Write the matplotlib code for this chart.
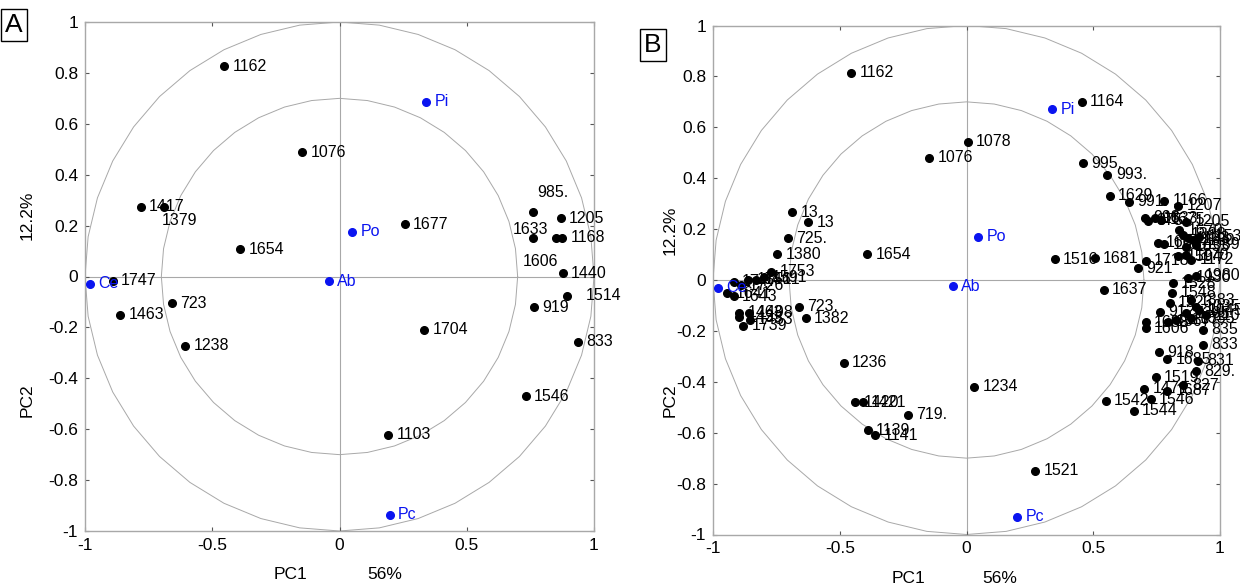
import matplotlib
matplotlib.use('Agg')
import matplotlib.pyplot as plt
import numpy as np

# panel A loadings (PC1, PC2)
a_labels = ['1162', '1076', '1417', '1379', '1654', '1677', '1747', '723', '1463', '1238',
            '1704', '1103', '985.', '1205', '1633', '1606', '1168', '1440', '1514', '919',
            '833', '1546']
a_x = [-0.454, -0.147, -0.781, -0.690, -0.391, 0.257, -0.891, -0.658, -0.862, -0.606,
       0.332, 0.191, 0.759, 0.870, 0.759, 0.851, 0.874, 0.877, 0.895, 0.765,
       0.936, 0.732]
a_y = [0.827, 0.489, 0.274, 0.274, 0.107, 0.206, -0.017, -0.105, -0.150, -0.273,
       -0.210, -0.621, 0.252, 0.229, 0.152, 0.152, 0.152, 0.013, -0.075, -0.121,
       -0.256, -0.470]
a_ref_labels = ['Pi', 'Po', 'Ab', 'Ce', 'Pc']
a_ref_x = [0.340, 0.049, -0.041, -0.980, 0.198]
a_ref_y = [0.686, 0.175, -0.018, -0.029, -0.937]

# panel B loadings (PC1, PC2)
b_labels = ['1162', '1164', '1078', '1076', '995.', '993.', '1629', '991.', '1166', '1207',
            '1205', '998', '875.', '1633', '1675', '1670', '1388', '1133', '1180', '1153',
            '1089', '1033', '1609', '1185', '1516', '1681', '1718', '921', '1594', '1170',
            '1172', '1930', '1980', '1637', '1528', '1548', '1523', '912', '1383', '1035',
            '1265', '1335', '1045', '1102', '1688', '1606', '1567', '1107', '835', '833',
            '918', '1685', '831', '829.', '1519', '827', '1471', '1687', '1546', '1542',
            '1544', '1234', '1521', '719.', '1139', '1141', '1420', '1421', '1236', '1382',
            '723.', '1654', '13', '13', '725.', '1380', '1753', '1747', '1726', '1751',
            '1461', '1591', '1641', '1643', '1463', '1433', '1498', '1453', '1739']
b_x = [-0.455, 0.455, 0.005, -0.146, 0.460, 0.556, 0.565, 0.641, 0.781, 0.834,
       0.867, 0.703, 0.716, 0.742, 0.768, 0.840, 0.853, 0.873, 0.893, 0.919,
       0.906, 0.867, 0.755, 0.781, 0.348, 0.506, 0.707, 0.676, 0.834, 0.867,
       0.887, 0.873, 0.906, 0.541, 0.814, 0.812, 0.801, 0.762, 0.887, 0.906,
       0.867, 0.887, 0.919, 0.946, 0.707, 0.707, 0.794, 0.828, 0.932, 0.932,
       0.759, 0.792, 0.915, 0.906, 0.746, 0.856, 0.700, 0.792, 0.726, 0.549,
       0.659, 0.030, 0.270, -0.230, -0.390, -0.360, -0.440, -0.410, -0.485, -0.635,
       -0.661, -0.391, -0.688, -0.625, -0.705, -0.747, -0.771, -0.918, -0.890, -0.860,
       -0.830, -0.800, -0.944, -0.918, -0.897, -0.897, -0.858, -0.855, -0.881]
b_y = [0.815, 0.700, 0.543, 0.481, 0.458, 0.413, 0.331, 0.308, 0.312, 0.291,
       0.229, 0.245, 0.232, 0.242, 0.236, 0.196, 0.177, 0.164, 0.157, 0.170,
       0.138, 0.131, 0.147, 0.140, 0.081, 0.085, 0.075, 0.046, 0.094, 0.098,
       0.079, 0.009, 0.016, -0.039, -0.013, -0.050, -0.089, -0.124, -0.079, -0.105,
       -0.131, -0.150, -0.118, -0.138, -0.166, -0.190, -0.164, -0.157, -0.196, -0.255,
       -0.284, -0.312, -0.317, -0.358, -0.382, -0.413, -0.428, -0.435, -0.468, -0.474,
       -0.514, -0.420, -0.750, -0.530, -0.590, -0.610, -0.480, -0.480, -0.325, -0.150,
       -0.106, 0.102, 0.267, 0.227, 0.164, 0.101, 0.033, -0.007, -0.020, 0.000,
       0.000, 0.010, -0.052, -0.063, -0.128, -0.147, -0.128, -0.157, -0.180]
b_ref_labels = ['Pi', 'Po', 'Ab', 'Ce', 'Pc']
b_ref_x = [0.337, 0.046, -0.053, -0.981, 0.199]
b_ref_y = [0.671, 0.170, -0.024, -0.030, -0.931]

# label offsets (points) that differ from the default
a_offsets = {'985.': (3, 14), '1633': (-14, 6), '1606': (-24, -17),
             '1379': (-1.5, -10), '1514': (13, 0)}
b_offsets = {}

GRAY = '#a8a8a8'
BLUE = '#0a14f0'
LBL_FONT = ['Liberation Sans', 'DejaVu Sans']
TICK_FONT = ['Liberation Sans Narrow', 'Liberation Sans', 'DejaVu Sans']


def draw_panel(ax, labels, xs, ys, rlabels, rxs, rys, offsets):
    t = np.linspace(0, 2 * np.pi, 41)
    for r in (1.0, 0.7):
        ax.plot(r * np.cos(t), r * np.sin(t), color=GRAY, lw=0.7, zorder=1)
    ax.axhline(0, color=GRAY, lw=0.8, zorder=1)
    ax.axvline(0, color=GRAY, lw=0.8, zorder=1)
    ax.plot(xs, ys, 'o', color='black', ms=5.5, zorder=3, clip_on=False)
    for lab, x, y in zip(labels, xs, ys):
        off = offsets.get(lab, (6, 0))
        ax.annotate(lab, (x, y), xytext=off, textcoords='offset points',
                    ha='left', va='center', fontsize=11.5, family=LBL_FONT,
                    annotation_clip=False, zorder=4)
    ax.plot(rxs, rys, 'o', color=BLUE, ms=5.5, zorder=3, clip_on=False)
    for lab, x, y in zip(rlabels, rxs, rys):
        ax.annotate(lab, (x, y), xytext=(6, 0), textcoords='offset points',
                    ha='left', va='center', fontsize=11.5, family=LBL_FONT,
                    color=BLUE, annotation_clip=False, zorder=4)
    ax.set_xlim(-1, 1)
    ax.set_ylim(-1, 1)
    ax.set_xticks([-1, -0.5, 0, 0.5, 1])
    ax.set_xticklabels(['-1', '-0.5', '0', '0.5', '1'])
    ax.set_yticks(np.round(np.arange(-1, 1.01, 0.2), 1))
    ax.set_yticklabels(['-1', '-0.8', '-0.6', '-0.4', '-0.2', '0',
                        '0.2', '0.4', '0.6', '0.8', '1'])
    ax.tick_params(direction='in', length=3, width=0.8, color='#555555',
                   top=True, right=True, labelsize=12.5, pad=5)
    for lbl in ax.get_xticklabels() + ax.get_yticklabels():
        lbl.set_family(TICK_FONT)
    for s in ax.spines.values():
        s.set_color(GRAY)
        s.set_linewidth(1)


fig = plt.figure(figsize=(12.4, 5.88), dpi=100)
axA = fig.add_axes([85 / 1240, 1 - 531 / 588, 509 / 1240, 509 / 588])
axB = fig.add_axes([713 / 1240, 1 - 534.5 / 588, 507 / 1240, 509 / 588])

draw_panel(axA, a_labels, a_x, a_y, a_ref_labels, a_ref_x, a_ref_y, a_offsets)
draw_panel(axB, b_labels, b_x, b_y, b_ref_labels, b_ref_x, b_ref_y, b_offsets)

# axis titles
for ax, px1, pp1, py2, pp2, ylx in [(axA, 0.403, 0.589, 0.257, 0.62, -0.114),
                                     (axB, 0.385, 0.566, 0.264, 0.598, -0.085)]:
    ax.text(px1, -0.086, 'PC1', transform=ax.transAxes, ha='center', va='center',
            fontsize=12.5, family=TICK_FONT)
    ax.text(pp1, -0.086, '56%', transform=ax.transAxes, ha='center', va='center',
            fontsize=12.5, family=TICK_FONT)
    ax.text(ylx, py2, 'PC2', transform=ax.transAxes, ha='center', va='center',
            rotation=90, fontsize=12.5, family=TICK_FONT)
    ax.text(ylx, pp2, '12.2%', transform=ax.transAxes, ha='center', va='center',
            rotation=90, fontsize=12.5, family=TICK_FONT)

box = dict(boxstyle='square,pad=0.15', fc='white', ec='black', lw=1)
fig.text(14 / 1240, 1 - 25 / 588, 'A', fontsize=19, ha='center', va='center',
         family=LBL_FONT, bbox=box)
fig.text(653 / 1240, 1 - 45 / 588, 'B', fontsize=19, ha='center', va='center',
         family=LBL_FONT, bbox=box)

fig.savefig('out.png', dpi=100)
